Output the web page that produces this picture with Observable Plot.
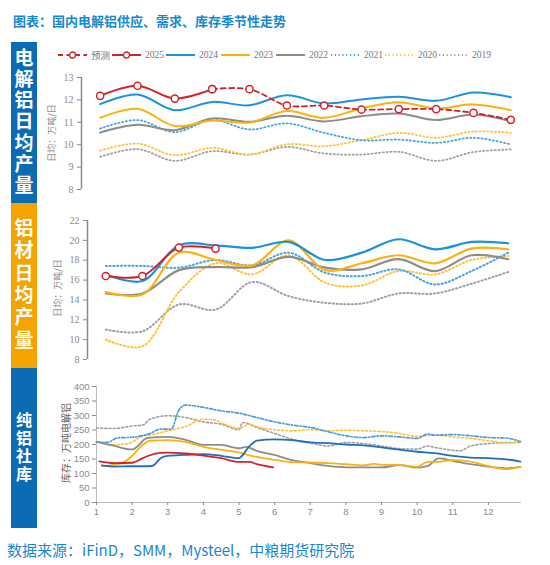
<!DOCTYPE html>
<html><head><meta charset="utf-8">
<script src="https://cdn.jsdelivr.net/npm/d3@7"></script>
<script src="https://cdn.jsdelivr.net/npm/@observablehq/plot@0.6"></script>
<style>
body{margin:0;width:550px;height:565px;position:relative;background:#fff;overflow:hidden;font-family:"Noto Sans CJK SC",sans-serif}
.abs{position:absolute}
.band{position:absolute;left:11px;width:26px;display:flex;justify-content:center;align-items:center}
.band div{writing-mode:vertical-rl;text-orientation:upright;color:#fff;font-weight:bold;line-height:1;white-space:nowrap}
.ylab{position:absolute;white-space:nowrap;transform:translate(-50%,-50%) rotate(-90deg)}
.leg{position:absolute;top:48px;height:14px;display:flex;align-items:center;font-family:"Liberation Serif","Noto Sans CJK SC",serif;font-size:9.5px;color:#777}
.leg svg{margin-right:3px}
.panel{position:absolute;left:0}
</style></head><body>
<div class="abs" style="left:13px;top:11px;font-size:13px;font-weight:bold;color:#1589CF">图表：国内电解铝供应、需求、库存季节性走势</div>
<div id="legend"></div>
<div class="band" style="top:42px;height:161px;background:#0B6BB5"><div id="b1" style="font-size:19px;letter-spacing:2.2px"></div></div>
<div class="band" style="top:203px;height:165px;background:#F5A300"><div id="b2" style="font-size:19px;letter-spacing:3.4px"></div></div>
<div class="band" style="top:368px;height:160px;background:#0B6BB5"><div id="b3" style="font-size:16px;letter-spacing:2px"></div></div>
<div class="ylab" style="left:51px;top:133px;font-size:9px;color:#8a8a8a">日均：万吨/日</div>
<div class="ylab" style="left:57px;top:288px;font-size:9px;color:#8a8a8a">日均：万吨/日</div>
<div class="ylab" style="left:65px;top:443px;font-size:10px;color:#666">库存：万吨电解铝</div>
<div id="p1" class="panel" style="top:62px"></div>
<div id="p2" class="panel" style="top:205px"></div>
<div id="p3" class="panel" style="top:372px"></div>
<div class="abs" style="left:7px;top:539px;font-size:15px;color:#1A86D0">数据来源：iFinD，SMM，Mysteel，中粮期货研究院</div>
<script>
// ---------- data ----------
const months = [1,2,3,4,5,6,7,8,9,10,11,12];
const seriesNames = ["预测","2025","2024","2023","2022","2021","2020","2019"];
const bandLabels = ["电解铝日均产量","铝材日均产量","纯铝社库"];

// 电解铝日均产量 (万吨/日)
const prodForecast = [null,null,null,12.48,12.48,11.75,11.75,11.57,11.59,11.59,11.42,11.11];
const prod2025 = [12.18,12.63,12.06,12.48];
const prod2024 = [11.81,12.24,11.54,11.91,11.76,12.21,11.84,12.02,12.14,11.96,12.33,12.12];
const prod2023 = [11.2,11.6,10.83,11.08,10.99,11.5,11.2,11.62,11.9,11.62,11.8,11.54];
const prod2022 = [10.54,10.89,10.65,11.17,11.02,11.29,11.04,11.27,11.39,11.1,11.35,11.05];
const prod2021 = [10.72,11.1,10.56,11.1,10.68,10.95,10.53,10.2,10.23,10.08,10.31,10.01];
const prod2020 = [9.73,10.05,9.53,9.86,9.56,10.02,9.93,10.2,10.53,10.31,10.59,10.53];
const prod2019 = [9.46,9.8,9.28,9.71,9.56,9.9,9.61,9.56,9.68,9.28,9.67,9.79];
const prodTicks = [8,9,10,11,12,13];

// 铝材日均产量 (万吨/日)
const mat2025 = [16.41,16.41,19.27,19.17];
const mat2024 = [16.57,15.9,19.5,19.5,19.24,19.84,18.02,18.76,20.11,19.1,19.84,19.71];
const mat2023 = [14.79,14.55,18.76,18.02,17.48,20.0,17.0,17.69,18.5,17.69,19.17,19.1];
const mat2022 = [14.65,14.65,17.0,17.31,17.31,18.33,17.25,17.08,18.1,16.91,18.5,18.1];
const mat2021 = [17.42,17.42,17.25,18.02,17.48,18.76,16.74,16.41,17.08,15.56,16.91,18.76];
const mat2020 = [10.0,9.33,14.79,17.69,16.57,18.5,15.73,15.46,16.91,16.57,18.02,18.43];
const mat2019 = [11.01,10.84,13.54,13.03,15.8,14.38,13.71,13.64,14.65,14.65,15.63,16.81];
const matTicks = [8,10,12,14,16,18,20,22];

// 纯铝社库 (万吨), [month, value]
const stock2025 = [[1.08,142],[1.5,136],[2,137],[2.3,153],[2.5,163],[2.8,171],[3,172],[3.5,169],[4,162],[4.5,153],[5,140],[5.3,140],[5.5,132],[5.96,121]];
const stock2024 = [[1.15,128],[1.5,124],[2,125],[2.5,125],[2.6,128],[2.8,153],[3,161],[3.5,164],[4,167],[4.5,161],[5,153],[5.05,157],[5.3,195],[5.5,213],[6,218],[6.5,215],[7,207],[7.5,205],[8,200],[8.5,197],[9,190],[9.5,182],[10,175],[10.5,170],[11,161],[11.5,155],[12,153],[12.5,149],[12.9,141]];
const stock2023 = [[1.15,126],[1.5,130],[1.8,141],[2,161],[2.3,199],[2.5,213],[3,215],[3.5,209],[4,192],[4.5,182],[5,172],[5.5,157],[6,147],[6.5,139],[7,138],[7.5,136],[8,132],[8.5,128],[8.8,133],[9,130],[9.5,130],[10,123],[10.3,140],[10.5,140],[11,146],[11.5,141],[12,126],[12.5,115],[12.9,123]];
const stock2022 = [[1,209],[1.5,195],[2,183],[2.4,221],[2.5,224],[3,226],[3.5,216],[4,199],[4.5,199],[5,187],[5.2,192],[5.5,178],[6,164],[6.5,146],[7,136],[7.5,126],[8,121],[8.5,121],[9,121],[9.5,129],[10,120],[10.3,126],[10.6,152],[11,144],[11.5,132],[12,124],[12.5,118],[12.9,123]];
const stock2021 = [[1,209],[1.3,207],[1.6,223],[2,225],[2.5,238],[2.8,253],[3.1,253],[3.3,316],[3.5,336],[4,328],[4.5,316],[5,308],[5.5,293],[6,278],[6.5,267],[7,259],[7.5,244],[8,230],[8.5,224],[9,230],[9.5,226],[10,221],[10.3,236],[10.5,232],[11,234],[11.5,230],[12,224],[12.5,222],[12.9,210]];
const stock2020 = [[1,209],[1.5,199],[1.9,203],[2.3,230],[2.5,233],[3,247],[3.5,262],[4,287],[4.3,285],[4.6,270],[5,256],[5.3,270],[5.5,261],[6,251],[6.5,247],[7,251],[7.5,247],[8,249],[8.5,247],[9,245],[9.5,238],[10,228],[10.5,233],[11,226],[11.5,221],[12,213],[12.5,205],[12.9,210]];
const stock2019 = [[1,257],[1.5,255],[2,264],[2.3,267],[2.5,287],[3,299],[3.5,293],[4,278],[4.5,270],[5,251],[5.1,276],[5.5,259],[6,238],[6.5,218],[7,205],[7.5,195],[8,207],[8.5,203],[9,195],[9.5,186],[10,184],[10.3,195],[10.5,190],[11,180],[11.2,178],[11.5,195],[12,203],[12.5,207],[12.9,207]];
const stockTicks = [0,50,100,150,200,250,300,350,400];

// ---------- styles ----------
const RED = "#D2232A";
const styles = {
  "预测": {stroke: RED, dash: "5,3.5", w: 1.8},
  "2025": {stroke: RED, dash: null, w: 2},
  "2024": {stroke: "#1B93D8", dash: null, w: 2},
  "2023": {stroke: "#FDB10F", dash: null, w: 2},
  "2022": {stroke: "#8C8C8C", dash: null, w: 2},
  "2021": {stroke: "#45A5E2", dash: "1.2,2.6", w: 1.8},
  "2020": {stroke: "#FFC23A", dash: "1.2,2.6", w: 1.8},
  "2019": {stroke: "#A0A0A0", dash: "1.2,2.6", w: 1.8}
};

// ---------- bands ----------
["b1","b2","b3"].forEach((id,i)=>{ document.getElementById(id).textContent = bandLabels[i]; });

// ---------- legend ----------
const legendX = [58,112,166,221,276,331,385,439];
const leg = document.getElementById("legend");
seriesNames.forEach((name,i)=>{
  const s = styles[name];
  const hasDot = name === "预测" || name === "2025";
  const div = document.createElement("div");
  div.className = "leg";
  div.style.left = legendX[i] + "px";
  div.innerHTML = `<svg width="30" height="10"><line x1="0" x2="29" y1="5" y2="5" stroke="${s.stroke}" stroke-width="${s.w}" ${s.dash?`stroke-dasharray="${s.dash}"`:""}/>${hasDot?`<circle cx="14.5" cy="5" r="3" fill="#fff" stroke="${RED}" stroke-width="1.3"/>`:""}</svg><span>${name}</span>`;
  leg.appendChild(div);
});

// ---------- helpers ----------
const monthly = arr => arr.map((v,i)=>({m: months[i], v})).filter(d=>d.v!=null);
const pairs = arr => arr.map(([m,v])=>({m, v}));
function lineMark(data, name, curve, overrides={}) {
  const s = Object.assign({}, styles[name], overrides);
  return Plot.line(data, {x:"m", y:"v", stroke: s.stroke, strokeWidth: s.w, strokeDasharray: s.dash || undefined, curve});
}
const dotMark = data => Plot.dot(data, {x:"m", y:"v", r:3.6, fill:"#fff", stroke: RED, strokeWidth:1.5});
const intFmt = d => String(d);

// ---------- panel 1 ----------
const p1 = Plot.plot({
  width: 550, height: 135,
  marginTop: 15, marginBottom: 8, marginLeft: 81, marginRight: 21,
  style: {background:"transparent", overflow:"visible"},
  x: {domain:[0.5,12.5], axis:null},
  y: {domain:[8,13], axis:null},
  marks: [
    Plot.ruleX([0.5], {y1:8, y2:13, stroke:"#8a8a8a", strokeWidth:1.5}),
    Plot.axisY({ticks: prodTicks, tickFormat:intFmt, tickSize:4, tickPadding:4, color:"#8a8a8a", fontSize:10, fontFamily:"Liberation Serif", label:null}),
    lineMark(monthly(prod2019),"2019","catmull-rom"),
    lineMark(monthly(prod2020),"2020","catmull-rom"),
    lineMark(monthly(prod2021),"2021","catmull-rom"),
    lineMark(monthly(prod2022),"2022","catmull-rom"),
    lineMark(monthly(prod2023),"2023","catmull-rom"),
    lineMark(monthly(prod2024),"2024","catmull-rom"),
    lineMark(monthly(prod2025),"2025","catmull-rom"),
    lineMark(monthly(prodForecast),"预测","catmull-rom"),
    dotMark(monthly(prod2025)),
    dotMark(monthly(prodForecast))
  ]
});
document.getElementById("p1").appendChild(p1);

// ---------- panel 2 ----------
const p2 = Plot.plot({
  width: 550, height: 165,
  marginTop: 15, marginBottom: 11, marginLeft: 87, marginRight: 24,
  style: {background:"transparent", overflow:"visible"},
  x: {domain:[0.5,12.5], axis:null},
  y: {domain:[8,22], axis:null},
  marks: [
    Plot.ruleX([0.5], {y1:8, y2:22, stroke:"#8a8a8a", strokeWidth:1.5}),
    Plot.axisY({ticks: matTicks, tickFormat:intFmt, tickSize:4, tickPadding:4, color:"#8a8a8a", fontSize:10, fontFamily:"Liberation Serif", label:null}),
    lineMark(monthly(mat2019),"2019","catmull-rom",{w:2}),
    lineMark(monthly(mat2020),"2020","catmull-rom",{w:2}),
    lineMark(monthly(mat2021),"2021","catmull-rom",{w:2}),
    lineMark(monthly(mat2022),"2022","catmull-rom",{w:2.2}),
    lineMark(monthly(mat2023),"2023","catmull-rom",{w:2.2}),
    lineMark(monthly(mat2024),"2024","catmull-rom",{w:2.2}),
    lineMark(monthly(mat2025),"2025","catmull-rom"),
    dotMark(monthly(mat2025))
  ]
});
document.getElementById("p2").appendChild(p2);

// ---------- panel 3 ----------
const p3 = Plot.plot({
  width: 550, height: 152,
  marginTop: 14, marginBottom: 22, marginLeft: 96, marginRight: 29,
  style: {background:"transparent", overflow:"visible"},
  x: {domain:[1,12.93], axis:null},
  y: {domain:[0,400], axis:null},
  marks: [
    Plot.ruleX([1], {y1:0, y2:400, stroke:"#bdbdbd", strokeWidth:1}),
    Plot.ruleY([0], {stroke:"#bdbdbd", strokeWidth:1}),
    Plot.axisY({ticks: stockTicks, tickFormat:intFmt, tickSize:4, tickPadding:3, color:"#8a8a8a", fontSize:9.5, fontFamily:"Liberation Sans", label:null}),
    Plot.axisX({ticks: months, tickFormat:intFmt, tickSize:3, tickPadding:3, color:"#8a8a8a", fontSize:9.5, fontFamily:"Liberation Sans", label:null}),
    lineMark(pairs(stock2019),"2019","monotone-x",{w:1.6, dash:"2,2.2"}),
    lineMark(pairs(stock2020),"2020","monotone-x",{w:1.6, dash:"2,2.2"}),
    lineMark(pairs(stock2021),"2021","monotone-x",{w:1.7, dash:"3.5,2,1.2,2", stroke:"#4D9BE0"}),
    lineMark(pairs(stock2022),"2022","monotone-x",{w:1.8}),
    lineMark(pairs(stock2023),"2023","monotone-x",{w:1.8}),
    lineMark(pairs(stock2024),"2024","monotone-x",{w:1.8, stroke:"#1E6FC2"}),
    lineMark(pairs(stock2025),"2025","monotone-x",{w:1.8})
  ]
});
document.getElementById("p3").appendChild(p3);
</script>
</body></html>
